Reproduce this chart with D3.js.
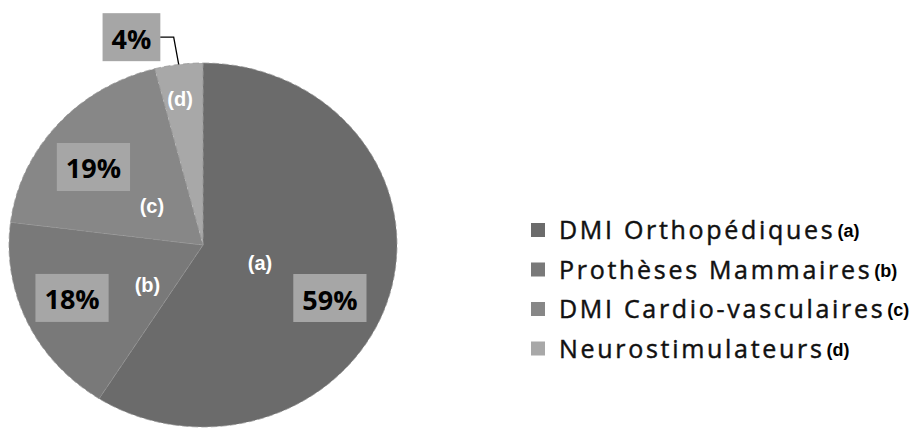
<!DOCTYPE html>
<html>
<head>
<meta charset="utf-8">
<script src="https://cdn.jsdelivr.net/npm/d3@7"></script>
<style>
  html, body { margin: 0; padding: 0; background: #ffffff; }
  svg { display: block; }
</style>
</head>
<body>
<svg id="chart" width="909" height="428"></svg>
<script>
// ---- data ----
const categories = ["DMI Orthopédiques", "Prothèses Mammaires", "DMI Cardio-vasculaires", "Neurostimulateurs"];
const tags = ["(a)", "(b)", "(c)", "(d)"];
const values = [59, 18, 19, 4];
const valueLabels = ["59%", "18%", "19%", "4%"];
const colors = ["#6b6b6b", "#797979", "#878787", "#a8a8a8"];

// ---- layout ----
const cx = 203, cy = 245;
const R = 182;            // vertical radius
const sx = 194 / 182;     // horizontal stretch of the picture
// label placement tweaks (angle offset in degrees, radius factor)
const valuePlace = [[7.8, 0.716], [1.9, 0.735], [-4.2, 0.709], [-10.7, 1.20]];
const tagPlace = [[2.4, 0.31], [-12.1, 0.36], [-2.2, 0.34], [-1.2, 0.81]];

const svg = d3.select("#chart");
const g = svg.append("g").attr("transform", `translate(${cx},${cy})`);

const pie = d3.pie().sort(null).value(d => d).startAngle(0).endAngle(2 * Math.PI);
const arcs = pie(values);
const arc = d3.arc().innerRadius(0).outerRadius(R);

g.append("g").attr("transform", `scale(${sx},1)`)
  .selectAll("path").data(arcs).enter().append("path")
  .attr("d", arc)
  .attr("fill", (d, i) => colors[i])
  .attr("stroke", "#939393")
  .attr("stroke-width", 0.7)
  .attr("stroke-dasharray", "6,3");

function polar(angle, r) {
  return [sx * r * Math.sin(angle), -r * Math.cos(angle)];
}
const deg = Math.PI / 180;
const mid = d => (d.startAngle + d.endAngle) / 2;

// tags inside slices
g.selectAll("text.tag").data(arcs).enter().append("text")
  .attr("class", "tag")
  .each(function (d, i) {
    const p = polar(mid(d) + tagPlace[i][0] * deg, tagPlace[i][1] * R);
    d3.select(this).attr("x", p[0]).attr("y", p[1]);
  })
  .attr("text-anchor", "middle")
  .attr("dominant-baseline", "central")
  .attr("font-family", "'Liberation Sans', Arial, sans-serif")
  .attr("font-weight", "bold")
  .attr("font-size", 20)
  .attr("fill", "#ffffff")
  .text((d, i) => tags[i]);

// value label boxes
const vl = g.selectAll("g.vlabel").data(arcs).enter().append("g")
  .attr("class", "vlabel")
  .attr("transform", (d, i) => {
    const p = polar(mid(d) + valuePlace[i][0] * deg, valuePlace[i][1] * R);
    return `translate(${p[0]},${p[1]})`;
  });
vl.append("rect").attr("fill", "#a6a6a6");
const vtexts = vl.append("text")
  .attr("text-anchor", "middle")
  .attr("dominant-baseline", "central")
  .attr("y", 1)
  .attr("font-family", "'Open Sans', sans-serif")
  .attr("font-weight", "bold")
  .attr("font-size", 27)
  .attr("fill", "#000000")
  .text((d, i) => valueLabels[i]);
vtexts.each(function (d) {
  const w = this.getComputedTextLength();
  const bw = w + 18, bh = 48;
  d.box = { w: bw, h: bh };
  d3.select(this.parentNode).select("rect")
    .attr("x", -bw / 2).attr("y", -bh / 2).attr("width", bw).attr("height", bh);
});

// leader line for labels placed outside the pie
arcs.forEach((d, i) => {
  if (valuePlace[i][1] > 1) {
    const lp = polar(mid(d) + valuePlace[i][0] * deg, valuePlace[i][1] * R);
    const ep = polar(mid(d), R);
    const x0 = lp[0] + d.box.w / 2;
    g.append("path")
      .attr("d", `M${x0},${lp[1]} L${ep[0] - 5},${lp[1]} L${ep[0]},${ep[1]}`)
      .attr("fill", "none")
      .attr("stroke", "#000000")
      .attr("stroke-width", 1.3);
  }
});

// ---- legend ----
const legX = 531, legY0 = 230, legStep = 39.5;
const leg = svg.append("g");
categories.forEach((c, i) => {
  const y = legY0 + i * legStep;
  leg.append("rect")
    .attr("x", legX).attr("y", y - 7).attr("width", 14).attr("height", 14)
    .attr("fill", colors[i]);
  const t = leg.append("text")
    .attr("x", legX + 28).attr("y", y + 9)
    .attr("font-family", "'Open Sans', sans-serif")
    .attr("font-size", 25)
    .attr("letter-spacing", 2.7)
    .attr("fill", "#111111")
    .attr("stroke", "#111111")
    .attr("stroke-width", 0.45)
    .text(c);
  const w = t.node().getComputedTextLength();
  leg.append("text")
    .attr("x", legX + 28 + w + 2).attr("y", y + 7)
    .attr("font-family", "'Liberation Sans', Arial, sans-serif")
    .attr("font-weight", "bold")
    .attr("font-size", 18)
    .attr("fill", "#000000")
    .text(tags[i]);
});
</script>
</body>
</html>
